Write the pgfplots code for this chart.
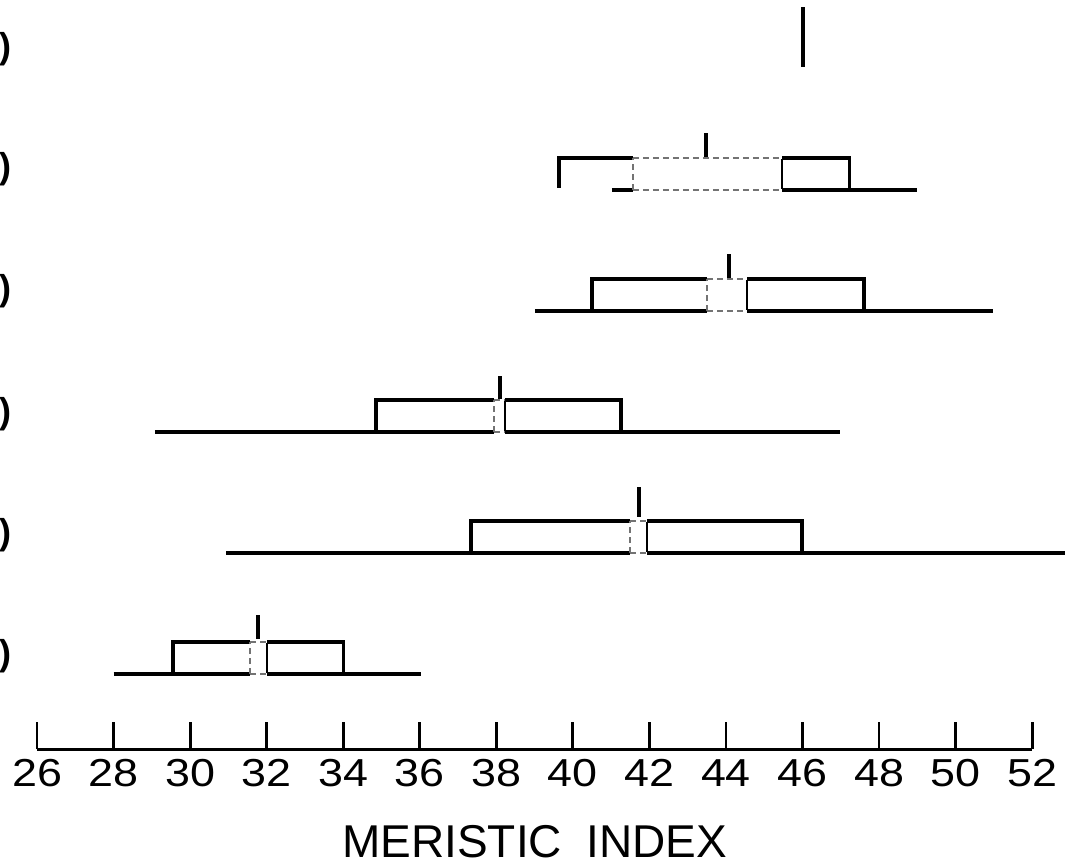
\documentclass[border=0pt]{standalone}
\usepackage{fontspec}
\setmainfont{Liberation Sans}
\newfontfamily\tickfont[FakeStretch=1.15]{Liberation Sans}
\usepackage{pgfplots}
\pgfplotsset{compat=1.18}

% one px of the scan = 0.5pt
\pgfplotsset{
  bar/.style={black, line width=1.7pt, line cap=butt},
  inner/.style={black!55, densely dashed, line width=0.8pt},
}
\tikzset{paren/.style={anchor=west, inner sep=0pt, font=\bfseries\fontsize{18}{20}\selectfont}}

\begin{document}
\begin{tikzpicture}
\begin{axis}[
  x=19.135pt, y=60.5pt,
  xmin=26, xmax=52, ymin=0.38, ymax=6.57,
  clip=false,
  axis x line*=bottom,
  axis y line=none,
  axis line style={line width=1.5pt},
  xtick={26,28,...,52},
  ytick=\empty,
  tick align=inside,
  major tick length=13.5pt,
  major tick style={line width=1.4pt, black},
  /pgf/number format/assume math mode=true,
  xticklabel style={font=\tickfont\fontsize{19.5}{21}\selectfont, yshift=-1.5pt},
  xlabel={MERISTIC\hspace{0.25em} INDEX},
  xlabel style={font=\fontsize{23}{25}\selectfont, inner sep=0pt,
    at={(ticklabel cs:0.5)}, anchor=north, yshift=-16pt},
]
% row 1: single value
\addplot[bar, line width=2pt] coordinates {(46.0,6.017) (46.0,6.515)};

% row 2
\addplot[bar] coordinates {(41.02,5) (41.57,5)};
\addplot[inner] coordinates {(41.57,5) (45.47,5)};
\addplot[bar] coordinates {(45.47,5) (49.00,5)};
\addplot[bar] coordinates {(39.64,5.017) (39.64,5.265) (41.57,5.265)};
\addplot[inner] coordinates {(41.57,5.265) (45.47,5.265)};
\addplot[bar] coordinates {(45.47,5.265) (47.22,5.265) (47.22,5)};
\addplot[inner] coordinates {(41.57,5) (41.57,5.265)};
\addplot[bar, line width=1.1pt] coordinates {(45.47,5.01) (45.47,5.255)};
\addplot[bar] coordinates {(43.48,5.273) (43.48,5.471)};

% row 3
\addplot[bar] coordinates {(39.01,4) (43.51,4)};
\addplot[inner] coordinates {(43.51,4) (44.55,4)};
\addplot[bar] coordinates {(44.55,4) (50.98,4)};
\addplot[bar] coordinates {(40.50,4) (40.50,4.265) (43.51,4.265)};
\addplot[inner] coordinates {(43.51,4.265) (44.55,4.265)};
\addplot[bar] coordinates {(44.55,4.265) (47.61,4.265) (47.61,4)};
\addplot[inner] coordinates {(43.51,4) (43.51,4.265)};
\addplot[bar, line width=1.1pt] coordinates {(44.55,4.01) (44.55,4.255)};
\addplot[bar] coordinates {(44.08,4.273) (44.08,4.471)};

% row 4
\addplot[bar] coordinates {(29.08,3) (37.94,3)};
\addplot[inner] coordinates {(37.94,3) (38.23,3)};
\addplot[bar] coordinates {(38.23,3) (46.98,3)};
\addplot[bar] coordinates {(34.86,3) (34.86,3.265) (37.94,3.265)};
\addplot[inner] coordinates {(37.94,3.265) (38.23,3.265)};
\addplot[bar] coordinates {(38.23,3.265) (41.26,3.265) (41.26,3)};
\addplot[inner] coordinates {(37.94,3) (37.94,3.265)};
\addplot[bar, line width=1.1pt] coordinates {(38.23,3.01) (38.23,3.255)};
\addplot[bar] coordinates {(38.10,3.27) (38.10,3.46)};

% row 5
\addplot[bar] coordinates {(30.94,2) (41.50,2)};
\addplot[inner] coordinates {(41.50,2) (41.94,2)};
\addplot[bar] coordinates {(41.94,2) (52.86,2)};
\addplot[bar] coordinates {(37.34,2) (37.34,2.265) (41.50,2.265)};
\addplot[inner] coordinates {(41.50,2.265) (41.94,2.265)};
\addplot[bar] coordinates {(41.94,2.265) (45.99,2.265) (45.99,2)};
\addplot[inner] coordinates {(41.50,2) (41.50,2.265)};
\addplot[bar, line width=1.1pt] coordinates {(41.94,2.01) (41.94,2.255)};
\addplot[bar] coordinates {(41.73,2.30) (41.73,2.545)};

% row 6
\addplot[bar] coordinates {(28.00,1) (31.57,1)};
\addplot[inner] coordinates {(31.57,1) (32.01,1)};
\addplot[bar] coordinates {(32.01,1) (36.03,1)};
\addplot[bar] coordinates {(29.55,1) (29.55,1.265) (31.57,1.265)};
\addplot[inner] coordinates {(31.57,1.265) (32.01,1.265)};
\addplot[bar] coordinates {(32.01,1.265) (34.00,1.265) (34.00,1)};
\addplot[inner] coordinates {(31.57,1) (31.57,1.265)};
\addplot[bar, line width=1.1pt] coordinates {(32.01,1.01) (32.01,1.255)};
\addplot[bar] coordinates {(31.77,1.29) (31.77,1.49)};

% row labels at the left edge (only their closing brackets survive in the scan)
\node[paren] at (axis cs:25.02,6.165) {)};
\node[paren] at (axis cs:25.02,5.17) {)};
\node[paren] at (axis cs:25.02,4.165) {)};
\node[paren] at (axis cs:25.02,3.15) {)};
\node[paren] at (axis cs:25.02,2.15) {)};
\node[paren] at (axis cs:25.02,1.15) {)};

\coordinate (bl) at (axis cs:25.033,-0.579);
\coordinate (tr) at (axis cs:52.91,6.57);
\end{axis}
\pgfresetboundingbox
\useasboundingbox (bl) rectangle (tr);
\end{tikzpicture}
\end{document}
